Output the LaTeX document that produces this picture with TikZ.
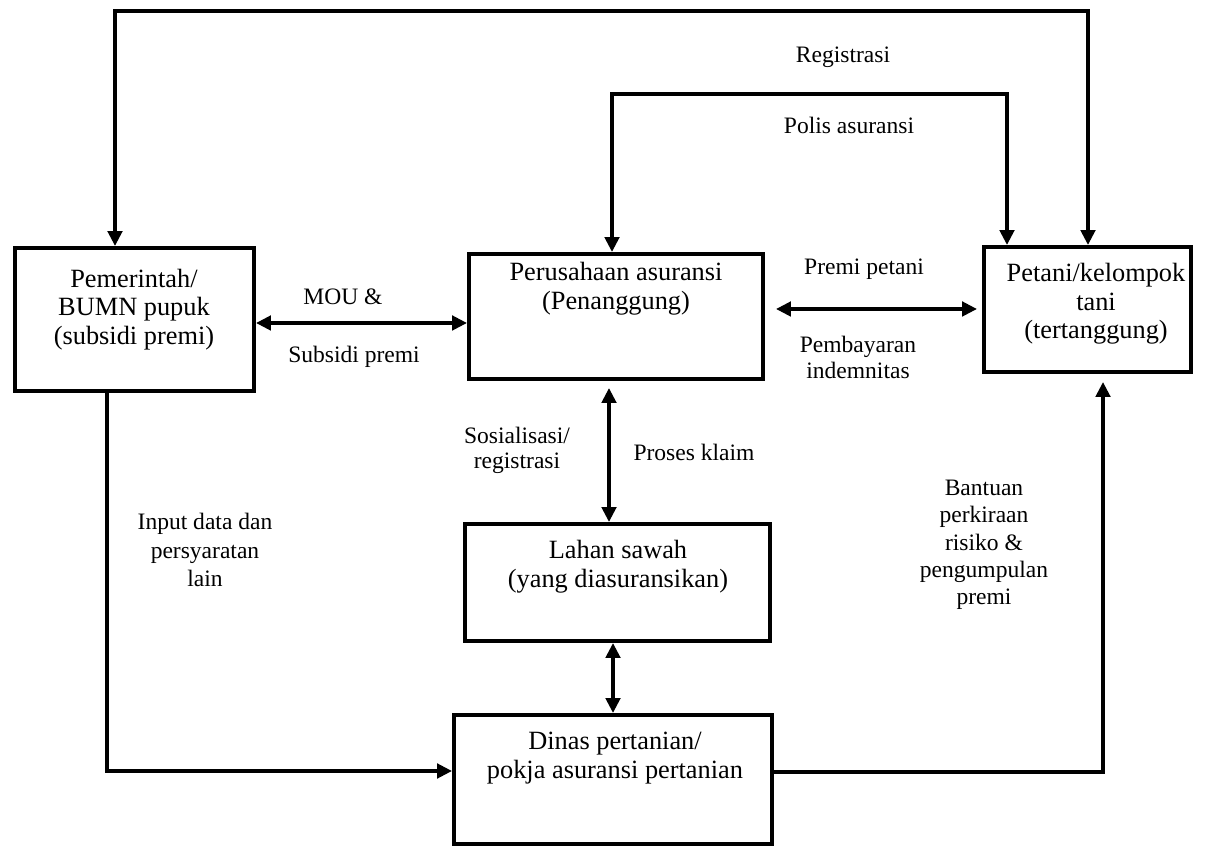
\documentclass[tikz,border=0pt]{standalone}
\usepackage{fontspec}
\setmainfont{Liberation Serif}
\usetikzlibrary{arrows.meta}
\begin{document}
\begin{tikzpicture}[x=0.02cm,y=-0.02cm,
  box/.style={draw, line width=2.3pt, rectangle, inner sep=0pt},
  tip/.tip={Triangle[length=8.5pt,width=8.2pt]},
  conn/.style={line width=2pt, -tip},
  conn2/.style={line width=2pt, tip-tip},
  boxtext/.style={anchor=north, inner sep=0pt, align=center, font=\fontsize{15}{16.4}\selectfont},
  lbl/.style={anchor=north, inner sep=0pt, align=center, font=\fontsize{13.4}{14.8}\selectfont}]
\useasboundingbox (0,0) rectangle (1211,854);

% boxes
\node[box, minimum width=4.78cm, minimum height=2.86cm] (pem) at (134.5,319.5) {};
\node[box, minimum width=5.88cm, minimum height=2.5cm]  (per) at (616,316.5) {};
\node[box, minimum width=4.14cm, minimum height=2.5cm]  (pet) at (1087.5,309.5) {};
\node[box, minimum width=6.1cm,  minimum height=2.34cm] (lah) at (617.5,582.5) {};
\node[box, minimum width=6.36cm, minimum height=2.58cm] (din) at (613,779.5) {};

% box texts
\node[boxtext] (pemt) at (134,268.5) {Pemerintah/\\BUMN pupuk\\(subsidi premi)};
\node[boxtext] (pert) at (616,261.7) {Perusahaan asuransi\\(Penanggung)};
\node[boxtext] (pett) at (1096,262.7) {Petani/kelompok\\tani\\(tertanggung)};
\node[boxtext] (laht) at (618,539.7) {Lahan sawah\\(yang diasuransikan)};
\node[boxtext] (dint) at (615,731.7) {Dinas pertanian/\\pokja asuransi pertanian};

% connector labels
\node[lbl] (reg)   at (843,46.7)  {Registrasi};
\node[lbl] (polis) at (849,117)   {Polis asuransi};
\node[lbl] (mou)   at (343,288)   {MOU \&};
\node[lbl] (sub)   at (354,346)   {Subsidi premi};
\node[lbl] (prem)  at (864,259)   {Premi petani};
\node[lbl] (pemb)  at (858,336)   {Pembayaran\\indemnitas};
\node[lbl, font=\fontsize{13.4}{14.2}\selectfont] (sos) at (517,427) {Sosialisasi/\\registrasi};
\node[lbl] (klaim) at (694,444)   {Proses klaim};
\node[lbl, font=\fontsize{13.4}{16.2}\selectfont] (inp) at (205,513) {Input data dan\\persyaratan\\lain};
\node[lbl, font=\fontsize{13.4}{15.5}\selectfont] (bant) at (984,480) {Bantuan\\perkiraan\\risiko \&\\pengumpulan\\premi};

% bend points of the connectors
\coordinate (tl) at (115,11);
\coordinate (tr) at (1088,11);
\coordinate (ml) at (612,94);
\coordinate (mr) at (1007,94);
\coordinate (mouy) at (0,323);
\coordinate (premy) at (0,309);
\coordinate (v1) at (609,0);
\coordinate (v2) at (613,0);
\coordinate (bl) at (107,771);
\coordinate (br) at (1103,772);

% connectors
\draw[conn2] (tl |- pem.north) -- (tl) -- (tr) -- (tr |- pet.north);
\draw[conn2] (ml |- per.north) -- (ml) -- (mr) -- (mr |- pet.north);
\draw[conn2] (pem.east |- mouy) -- (per.west |- mouy);
\draw[conn2, shorten <=0.22cm, shorten >=0.1cm] (per.east |- premy) -- (pet.west |- premy);
\draw[conn2, shorten <=0.14cm] (per.south -| v1) -- (lah.north -| v1);
\draw[conn2] (lah.south -| v2) -- (din.north -| v2);
\draw[conn] (pem.south -| bl) -- (bl) -- (din.west |- bl);
\draw[conn, shorten >=0.16cm] (din.east |- br) -- (br) -- (pet.south -| br);
\end{tikzpicture}
\end{document}
